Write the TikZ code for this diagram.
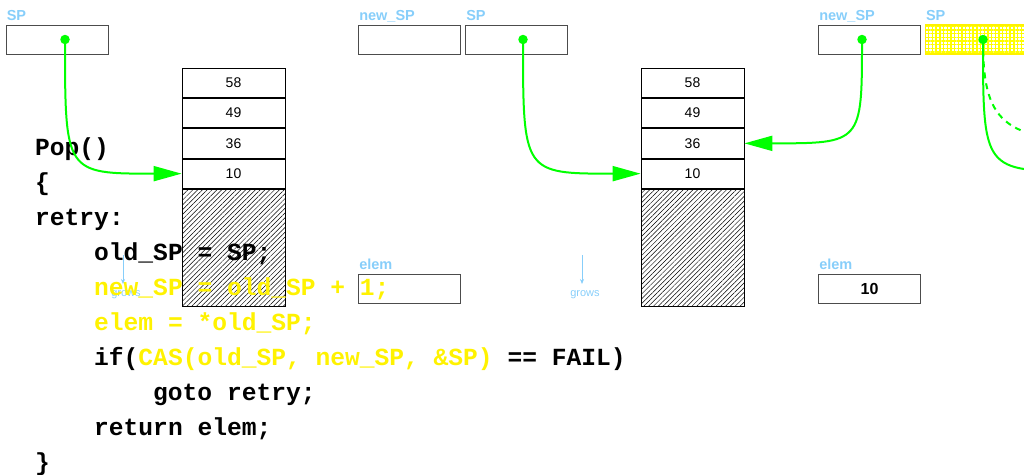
\documentclass[tikz,border=0pt]{standalone}
\usepackage{fontspec}
\setmainfont{Liberation Sans}
\newfontfamily\codefont{Liberation Mono}
\usetikzlibrary{positioning,arrows.meta,patterns.meta}
\definecolor{varblue}{RGB}{135,206,250}
\definecolor{ptrgreen}{RGB}{0,255,0}

\begin{document}
\begin{tikzpicture}[x=1pt, y=-1pt,
    var/.style={draw=black!70, line width=0.9pt, minimum width=102pt, minimum height=29pt, inner sep=0pt, font=\fontsize{16}{16}\selectfont\bfseries},
    varlabel/.style={anchor=base west, inner sep=0pt, text=varblue, font=\fontsize{14.5}{14.5}\selectfont\bfseries},
    cell/.style={draw=black, line width=0.8pt, minimum width=103pt, minimum height=29.5pt, inner sep=0pt, font=\fontsize{14}{14}\selectfont},
    unused/.style={cell, minimum height=117pt, pattern={Lines[angle=45, distance=3.4pt, line width=0.5pt]}},
    busy/.style={var, draw=yellow, line width=1.5pt, pattern={Hatch[angle=0, distance=3.7pt, line width=1.4pt]}, pattern color=yellow},
    dot/.style={circle, fill=ptrgreen, minimum size=9.5pt, inner sep=0pt},
    ptr/.style={draw=ptrgreen, line width=2pt, -{Triangle[length=28pt, width=15pt]}},
    maybe/.style={draw=ptrgreen, line width=2pt, dash pattern=on 6pt off 5pt},
    grows/.style={anchor=north, text=varblue, inner sep=0pt, font=\fontsize{11}{11}\selectfont},
    growarrow/.style={draw=varblue, line width=0.7pt, -{Stealth[length=5pt, width=4pt]}, shorten >=6pt},
    code/.style={anchor=base west, inner sep=0pt, font=\codefont\bfseries\fontsize{24.6}{24.6}\selectfont}
  ]
  \useasboundingbox (0,0) rectangle (1024,474);

  % the two stacks
  \foreach \s/\x in {a/233.5, b/692.5} {
    \node[cell] (\s58) at (\x,82.75) {58};
    \node[cell, below=0pt of \s58] (\s49) {49};
    \node[cell, below=0pt of \s49] (\s36) {36};
    \node[cell, below=0pt of \s36] (\s10) {10};
    \node[unused, below=0pt of \s10] (\s free) {};
  }

  % shared variables
  \node[var] (sp1) at (57,39.5) {};
  \node[var] (newsp2) at (409.5,39.5) {};
  \node[var] (sp2) at (516.5,39.5) {};
  \node[var] (newsp3) at (869.5,39.5) {};
  \node[busy] (sp3) at (976.5,39.5) {};
  \node[var] (elem1) at (409.5,288.5) {};
  \node[var] (elem3) at (869.5,288.5) {10};

  \node[varlabel] (sp1lab) at ([xshift=1pt, yshift=4pt]sp1.north west) {SP};
  \node[varlabel] (newsp2lab) at ([xshift=1pt, yshift=4pt]newsp2.north west) {new\_SP};
  \node[varlabel] (sp2lab) at ([xshift=1pt, yshift=4pt]sp2.north west) {SP};
  \node[varlabel] (newsp3lab) at ([xshift=1pt, yshift=4pt]newsp3.north west) {new\_SP};
  \node[varlabel] (sp3lab) at ([xshift=1pt, yshift=4pt]sp3.north west) {SP};
  \node[varlabel] (elem1lab) at ([xshift=1pt, yshift=4pt]elem1.north west) {elem};
  \node[varlabel] (elem3lab) at ([xshift=1pt, yshift=4pt]elem3.north west) {elem};

  % direction of growth
  \node[grows] (g1) at (126,290) {grows};
  \coordinate (g1top) at (123,255);
  \draw[growarrow] (g1top) -- (g1top |- g1.north);
  \node[grows] (g2) at (585,290) {grows};
  \coordinate (g2top) at (582,255);
  \draw[growarrow] (g2top) -- (g2top |- g2.north);

  % Pop() source
  \node[code] (l1) at (35,155) {Pop()};
  \node[code] (l2) at (35,190) {\{};
  \node[code] (l3) at (35,225) {retry:};
  \node[code] (l4) at (94,260) {old\_SP = SP;};
  \node[code, text=yellow] (l5) at (94,295) {new\_SP = old\_SP + 1;};
  \node[code, text=yellow] (l6) at (94,330) {elem = *old\_SP;};
  \node[code] (l7) at (94,365) {if({\color{yellow}CAS(old\_SP, new\_SP, \&SP)} == FAIL)};
  \node[code] (l8) at (153,400) {goto retry;};
  \node[code] (l9) at (94,435) {return elem;};
  \node[code] (l10) at (35,470) {\}};

  % pointers
  \node[dot] (p1) at (65,39.5) {};
  \node[dot] (p2) at (523,39.5) {};
  \node[dot] (p3) at (862,39.5) {};
  \node[dot] (p4) at (983,39.5) {};
  \coordinate (next10) at (1110,171.25);
  \coordinate (next36) at (1110,141.75);

  \draw[ptr] (p1.center) .. controls (p1 |- a10.west) .. (a10.west);
  \draw[ptr] (p2.center) .. controls (p2 |- b10.west) .. (b10.west);
  \draw[ptr] (p3.center) .. controls (p3 |- b36.east) .. (b36.east);
  \draw[ptr] (p4.center) .. controls (p4 |- next10) .. (next10);
  \draw[maybe] (p4.center) .. controls (983,120) and (1000,141.75) .. (next36);
\end{tikzpicture}
\end{document}
